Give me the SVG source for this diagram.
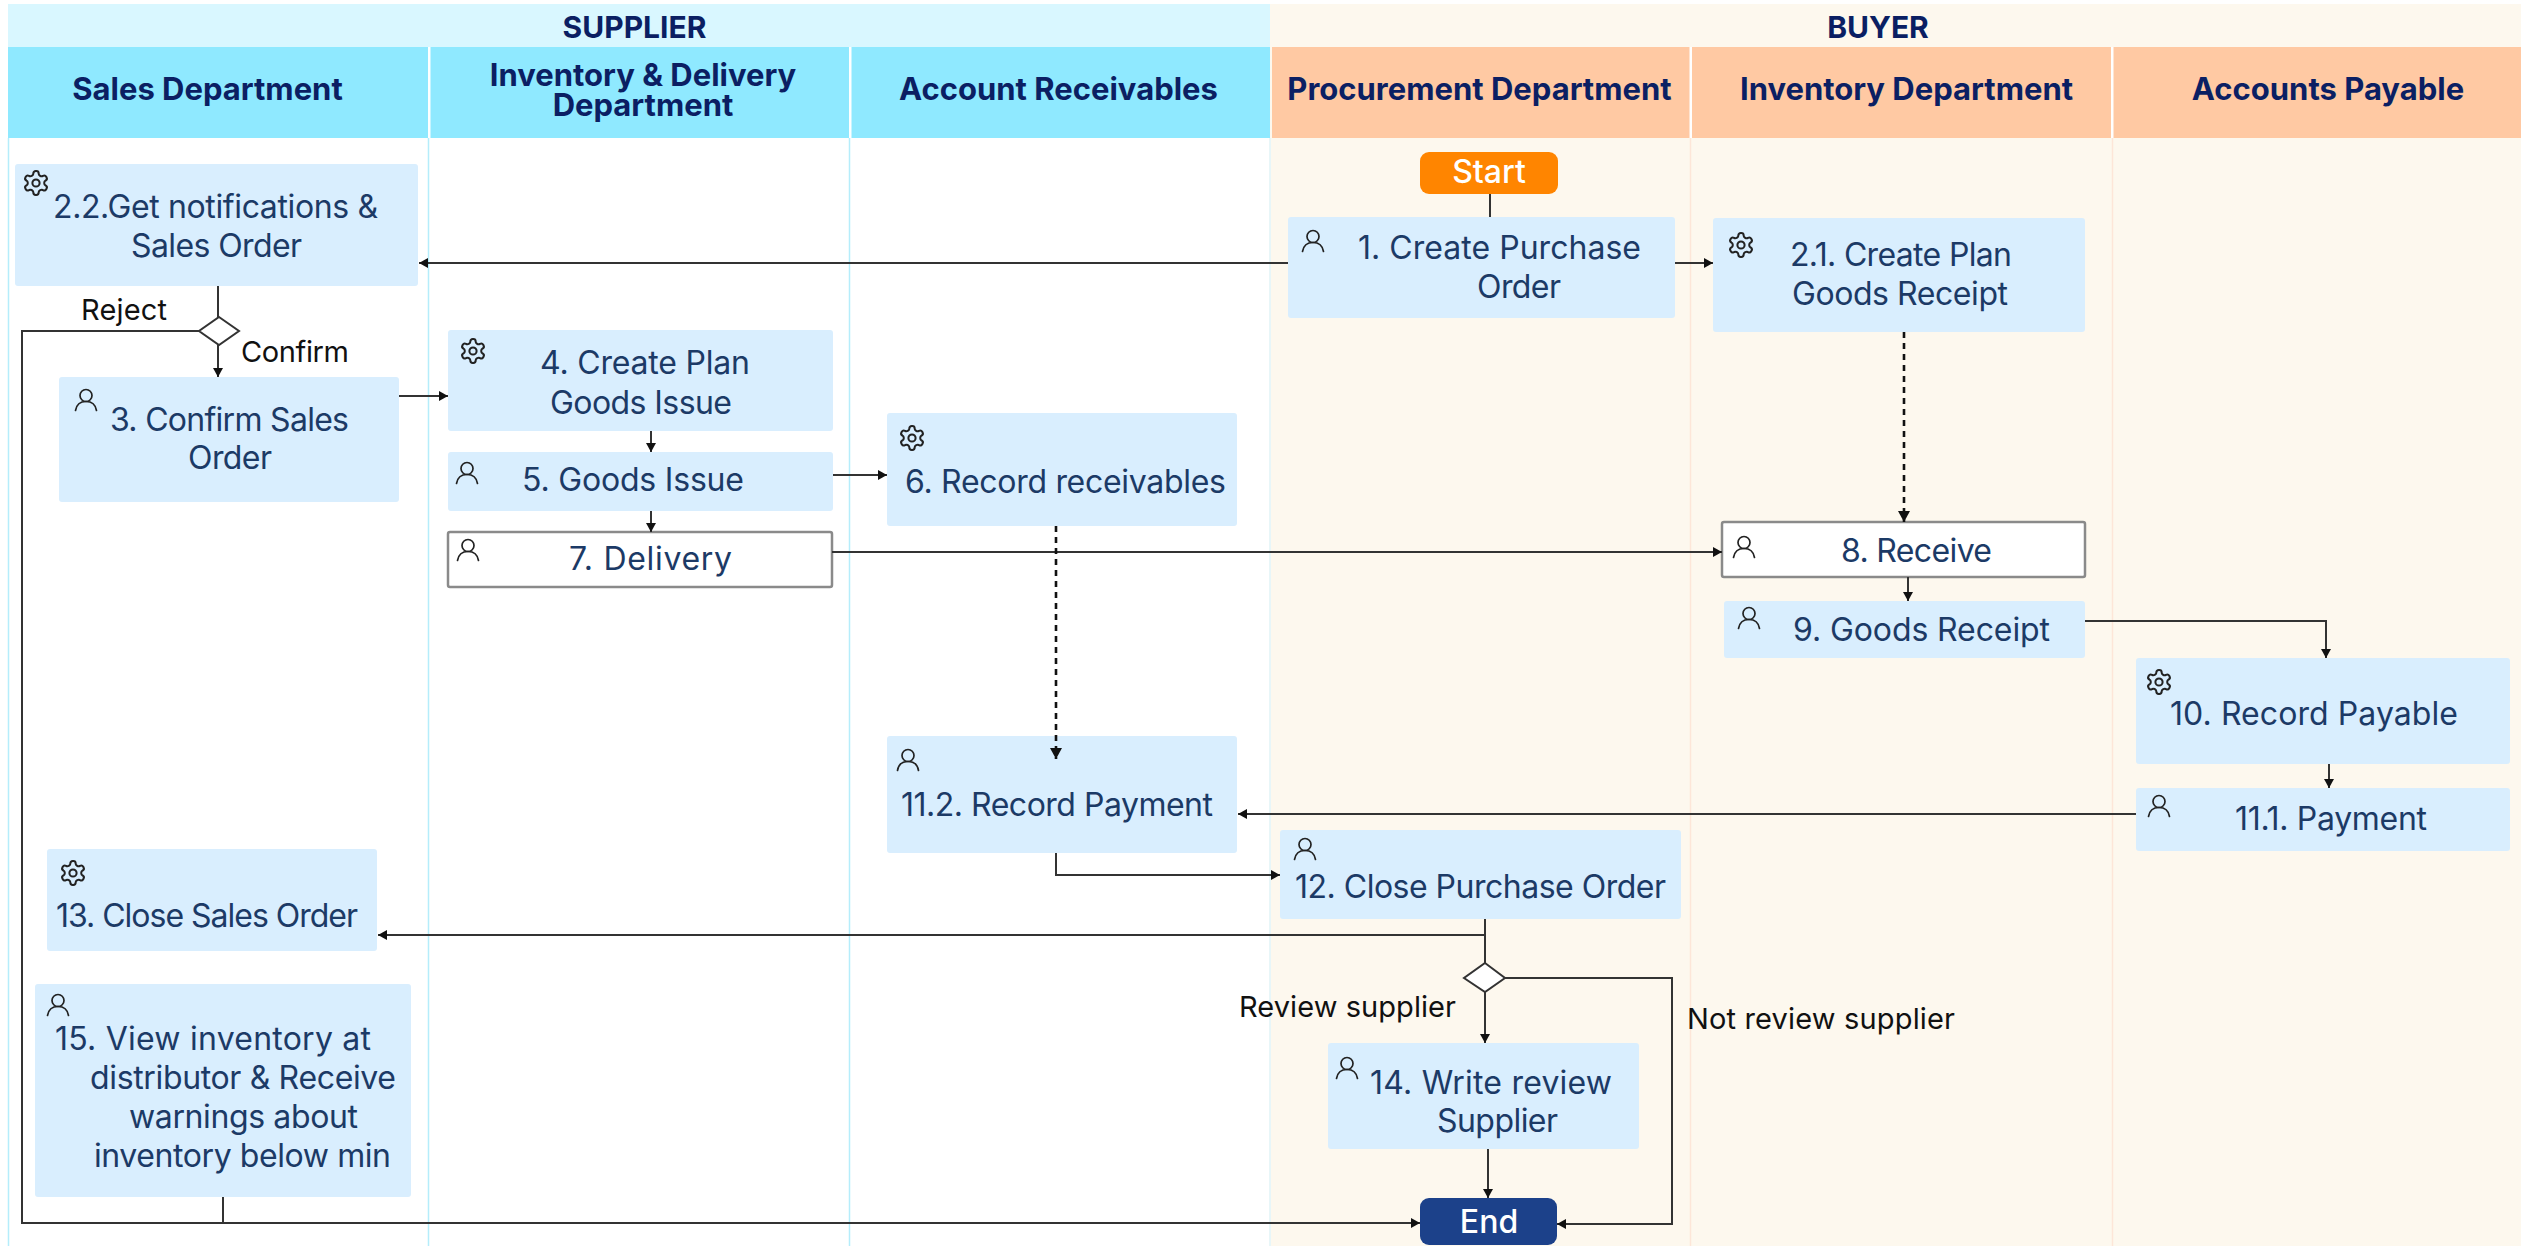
<svg xmlns="http://www.w3.org/2000/svg" xmlns:xlink="http://www.w3.org/1999/xlink" width="2521" height="1246" viewBox="0 0 2521 1246">
<style>
text{font-family:Inter,"Noto Sans","Liberation Sans",sans-serif}
.h{font-size:31px;font-weight:700;fill:#0b1f63;text-anchor:middle}
.h2{font-size:30px;font-weight:700;fill:#0b1f63;text-anchor:middle}
.n{fill:#d9eefe}
.o{fill:#fff;stroke:#8a8a8a;stroke-width:2.5}
.t{font-size:32px;font-weight:400;fill:#1c3a66;transform:translateY(1px)}
.l{font-size:29px;font-weight:400;fill:#111}
.w{font-size:32px;font-weight:500;fill:#fff}
.c{fill:none;stroke:#333;stroke-width:2}
.a{marker-end:url(#ah)}
.d{fill:none;stroke:#111;stroke-width:2.6;stroke-dasharray:6 5;marker-end:url(#ah2)}
.dm{fill:#fff;stroke:#333;stroke-width:2}
.i{fill:none;stroke:#222;stroke-width:1.7;stroke-linecap:round;stroke-linejoin:round}
</style>
<defs>
<marker id="ah" markerUnits="userSpaceOnUse" markerWidth="10" markerHeight="10" refX="9" refY="5" orient="auto"><path d="M0 0L9 5L0 10z" fill="#111"/></marker>
<marker id="ah2" markerUnits="userSpaceOnUse" markerWidth="11" markerHeight="12" refX="11" refY="6" orient="auto"><path d="M0 0L11 6L0 12z" fill="#111"/></marker>
<g id="gear" class="i" transform="scale(1.2) translate(-12 -12)"><path d="M12.22 2h-.44a2 2 0 0 0-2 2v.18a2 2 0 0 1-1 1.73l-.43.25a2 2 0 0 1-2 0l-.15-.08a2 2 0 0 0-2.73.73l-.22.38a2 2 0 0 0 .73 2.73l.15.1a2 2 0 0 1 1 1.72v.51a2 2 0 0 1-1 1.74l-.15.09a2 2 0 0 0-.73 2.73l.22.38a2 2 0 0 0 2.73.73l.15-.08a2 2 0 0 1 2 0l.43.25a2 2 0 0 1 1 1.73V20a2 2 0 0 0 2 2h.44a2 2 0 0 0 2-2v-.18a2 2 0 0 1 1-1.73l.43-.25a2 2 0 0 1 2 0l.15.08a2 2 0 0 0 2.73-.73l.22-.39a2 2 0 0 0-.73-2.73l-.15-.08a2 2 0 0 1-1-1.74v-.5a2 2 0 0 1 1-1.74l.15-.09a2 2 0 0 0 .73-2.73l-.22-.38a2 2 0 0 0-2.73-.73l-.15.08a2 2 0 0 1-2 0l-.43-.25a2 2 0 0 1-1-1.73V4a2 2 0 0 0-2-2z"/><circle cx="12" cy="12" r="3"/></g>
<g id="person" class="i"><circle cx="0" cy="-4.500" r="6"/><path d="M-10.500 10.500C-9.500 4.500-5.500 1.500 0 1.500S9.500 4.500 10.500 10.500"/></g>
</defs>

<g id="background">
<rect x="0" y="0" width="2521" height="1246" fill="#fff"/>
<rect x="1270" y="4" width="1251" height="1242" fill="#fdf8ee"/>
<rect x="8" y="4" width="1262" height="43" fill="#d9f7ff"/>
<rect x="8" y="47" width="1262" height="91" fill="#8fe9ff"/>
<rect x="1272" y="47" width="1249" height="91" fill="#ffc9a3"/>
<rect x="428" y="47" width="2.500" height="91" fill="#fff"/>
<rect x="849" y="47" width="2.500" height="91" fill="#fff"/>
<rect x="1689.500" y="47" width="2.500" height="91" fill="#fff"/>
<rect x="2111" y="47" width="2.500" height="91" fill="#fff"/>
<path d="M8.500 138V1246M428.500 138V1246M849.500 138V1246" stroke="#b5edfb" stroke-width="1.500" fill="none"/>
<path d="M1270 138V1246" stroke="#e8f6f8" stroke-width="2" fill="none"/>
<path d="M1690.500 138V1246M2112.500 138V1246" stroke="#fde6d8" stroke-width="1.500" fill="none"/>
</g>

<g id="headers">
<text class="h2" x="634.500" y="38">SUPPLIER</text>
<text class="h2" x="1878" y="38">BUYER</text>
<text class="h" x="207.500" y="100">Sales Department</text>
<text class="h" x="643" y="86">Inventory &amp; Delivery</text>
<text class="h" x="643" y="116">Department</text>
<text class="h" x="1058.500" y="100">Account Receivables</text>
<text class="h" x="1479.500" y="100">Procurement Department</text>
<text class="h" x="1906.500" y="100">Inventory Department</text>
<text class="h" x="2328" y="100">Accounts Payable</text>
</g>

<g id="start"><rect x="1420" y="152" width="138" height="42" rx="9" fill="#ff8500"/><text class="w" x="1489" y="183" text-anchor="middle">Start</text></g>
<g id="end"><rect x="1420" y="1198" width="137" height="47" rx="9" fill="#1c418a"/><text class="w" x="1489" y="1233" text-anchor="middle">End</text></g>

<g id="gw1"><path class="dm" d="M219 317L239 331L219 345L199 331z"/></g>
<g id="gw2"><path class="dm" d="M1485 963L1505 978L1485 992L1464 978z"/></g>

<g id="n2-2"><rect class="n" x="15" y="164" width="403" height="122" rx="3"/><use xlink:href="#gear" href="#gear" x="36" y="183"/><text class="t" x="53" y="217" textLength="325">2.2.Get notifications &amp;</text><text class="t" x="131" y="256" textLength="171">Sales Order</text></g>
<g id="n3"><rect class="n" x="59" y="377" width="340" height="125" rx="3"/><use href="#person" x="86" y="400"/><text class="t" x="110" y="430" textLength="239">3. Confirm Sales</text><text class="t" x="188" y="468" textLength="84">Order</text></g>
<g id="n4"><rect class="n" x="448" y="330" width="385" height="101" rx="3"/><use href="#gear" x="473" y="351"/><text class="t" x="540" y="373" textLength="210">4. Create Plan</text><text class="t" x="550" y="413" textLength="182">Goods Issue</text></g>
<g id="n5"><rect class="n" x="448" y="452" width="385" height="59" rx="3"/><use href="#person" x="467" y="473"/><text class="t" x="522" y="490" textLength="222">5. Goods Issue</text></g>
<g id="n7"><rect class="o" x="448" y="532" width="384" height="55" rx="2"/><use href="#person" x="468" y="550"/><text class="t" x="569" y="569" textLength="163">7. Delivery</text></g>
<g id="n6"><rect class="n" x="887" y="413" width="350" height="113" rx="3"/><use href="#gear" x="912" y="438"/><text class="t" x="905" y="492" textLength="321">6. Record receivables</text></g>
<g id="n11-2"><rect class="n" x="887" y="736" width="350" height="117" rx="3"/><use href="#person" x="908" y="760"/><text class="t" x="901" y="815" textLength="312">11.2. Record Payment</text></g>
<g id="n1"><rect class="n" x="1288" y="217" width="387" height="101" rx="3"/><use href="#person" x="1313" y="241"/><text class="t" x="1358" y="258" textLength="283">1. Create Purchase</text><text class="t" x="1477" y="297" textLength="84">Order</text></g>
<g id="n2-1"><rect class="n" x="1713" y="218" width="372" height="114" rx="3"/><use href="#gear" x="1741" y="245"/><text class="t" x="1790" y="265" textLength="222">2.1. Create Plan</text><text class="t" x="1792" y="304" textLength="216">Goods Receipt</text></g>
<g id="n8"><rect class="o" x="1722" y="522" width="363" height="55" rx="2"/><use href="#person" x="1744" y="547"/><text class="t" x="1841" y="561" textLength="151">8. Receive</text></g>
<g id="n9"><rect class="n" x="1724" y="601" width="361" height="57" rx="3"/><use href="#person" x="1749" y="618"/><text class="t" x="1793" y="640" textLength="257">9. Goods Receipt</text></g>
<g id="n10"><rect class="n" x="2136" y="658" width="374" height="106" rx="3"/><use href="#gear" x="2159" y="682"/><text class="t" x="2170" y="724" textLength="288">10. Record Payable</text></g>
<g id="n11-1"><rect class="n" x="2136" y="788" width="374" height="63" rx="3"/><use href="#person" x="2159" y="806"/><text class="t" x="2235" y="829" textLength="192">11.1. Payment</text></g>
<g id="n12"><rect class="n" x="1280" y="830" width="401" height="89" rx="3"/><use href="#person" x="1305" y="849"/><text class="t" x="1295" y="897" textLength="371">12. Close Purchase Order</text></g>
<g id="n14"><rect class="n" x="1328" y="1043" width="311" height="106" rx="3"/><use href="#person" x="1347" y="1068"/><text class="t" x="1370" y="1093" textLength="242">14. Write review</text><text class="t" x="1437" y="1131" textLength="121">Supplier</text></g>
<g id="n13"><rect class="n" x="47" y="849" width="330" height="102" rx="3"/><use href="#gear" x="73" y="873"/><text class="t" x="56" y="926" textLength="302">13. Close Sales Order</text></g>
<g id="n15"><rect class="n" x="35" y="984" width="376" height="213" rx="3"/><use href="#person" x="58" y="1005"/><text class="t" x="55" y="1049" textLength="316">15. View inventory at</text><text class="t" x="90" y="1088" textLength="306">distributor &amp; Receive</text><text class="t" x="129" y="1127" textLength="229">warnings about</text><text class="t" x="94" y="1166" textLength="297">inventory below min</text></g>

<g id="connectors">
<path class="c" d="M1490 194V217"/>
<path class="c a" d="M1288 263H419"/>
<path class="c a" d="M1675 263H1713"/>
<path class="c" d="M218 286V317"/>
<path class="c a" d="M218 345V377"/>
<path class="c a" d="M199 331H22V1223H1420"/>
<path class="c" d="M223 1197V1223"/>
<path class="c a" d="M399 396H448"/>
<path class="c a" d="M651 431V452"/>
<path class="c a" d="M651 511V532"/>
<path class="c a" d="M833 475H887"/>
<path class="c a" d="M832 552H1722"/>
<path class="d" d="M1056 526V759"/>
<path class="d" d="M1904 332V522"/>
<path class="c a" d="M1908 577V601"/>
<path class="c a" d="M2085 621H2326V658"/>
<path class="c a" d="M2329 764V788"/>
<path class="c a" d="M2136 814H1238"/>
<path class="c a" d="M1056 853V875H1280"/>
<path class="c a" d="M1485 935H378"/>
<path class="c" d="M1485 919V963"/>
<path class="c a" d="M1485 992V1043"/>
<path class="c a" d="M1505 978H1672V1224H1557"/>
<path class="c a" d="M1488 1149V1198"/>
</g>

<g id="labels">
<text class="l" x="81" y="320" textLength="86">Reject</text>
<text class="l" x="241" y="362" textLength="108">Confirm</text>
<text class="l" x="1239" y="1017" textLength="217">Review supplier</text>
<text class="l" x="1687" y="1029" textLength="268">Not review supplier</text>
</g>
</svg>
